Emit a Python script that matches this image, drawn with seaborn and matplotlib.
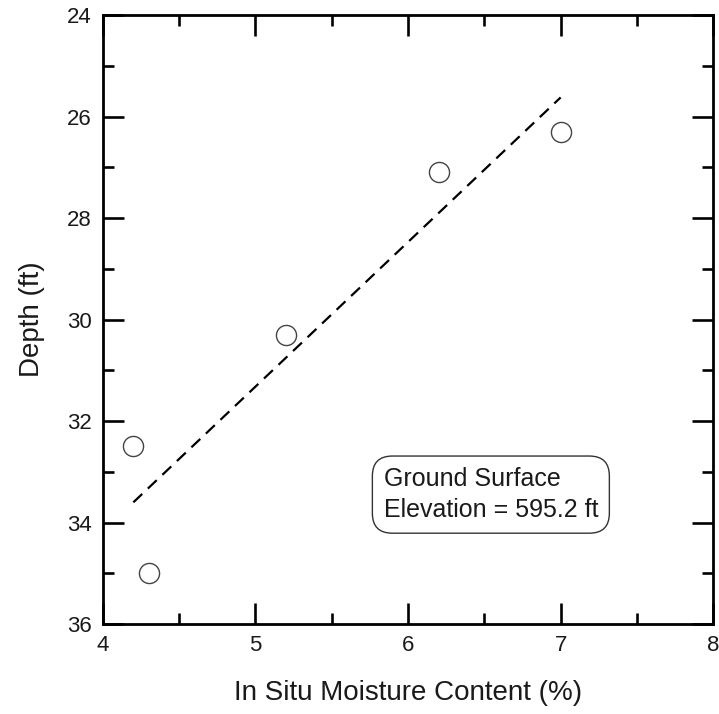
import matplotlib
matplotlib.use("Agg")
import matplotlib.pyplot as plt
from matplotlib.ticker import MultipleLocator
import numpy as np
import pandas as pd
import seaborn as sns

# Laboratory results: in situ moisture content versus sample depth
moisture_pct = [4.2, 4.3, 5.2, 6.2, 7.0]
depth_ft = [32.5, 35.0, 30.3, 27.1, 26.3]

x_ticks = [4, 5, 6, 7, 8]
y_ticks = [24, 26, 28, 30, 32, 34, 36]
note_lines = ["Ground Surface", "Elevation = 595.2 ft"]

df = pd.DataFrame({"moisture": moisture_pct, "depth": depth_ft})

sns.set_theme(style="white")
plt.rcParams["font.family"] = ["Liberation Sans", "DejaVu Sans"]

fig = plt.figure(figsize=(7.19, 7.14), dpi=100)
ax = fig.add_axes([0.143, 0.126, 0.849, 0.853])

# Least-squares trend line through the samples
sns.regplot(data=df, x="moisture", y="depth", ax=ax, ci=None, scatter=False,
            truncate=True,
            line_kws=dict(color="black", lw=1.6, linestyle=(0, (5.5, 3.5))))

# Individual samples as open circles
sns.scatterplot(data=df, x="moisture", y="depth", ax=ax, s=210,
                marker="o", facecolor="white", edgecolor="#444444",
                linewidth=1.0, zorder=3)

ax.set_xlim(4, 8)
ax.set_ylim(36, 24)
ax.set_xticks(x_ticks)
ax.set_yticks(y_ticks)
ax.xaxis.set_minor_locator(MultipleLocator(0.5))
ax.yaxis.set_minor_locator(MultipleLocator(1))

ax.tick_params(which="both", direction="in", top=True, right=True,
               bottom=True, left=True, color="black", width=1.9,
               labelsize=16, labelcolor="#1a1a1a")
ax.tick_params(which="major", length=15, pad=8)
ax.tick_params(which="minor", length=8)

for side in ax.spines.values():
    side.set_visible(True)
    side.set_color("black")
    side.set_linewidth(2.0)

ax.set_xlabel("In Situ Moisture Content (%)", fontsize=20, labelpad=17,
              color="#1a1a1a")
ax.set_ylabel("Depth (ft)", fontsize=20, labelpad=16, color="#1a1a1a")

ax.text(5.84, 33.45, "\n".join(note_lines), fontsize=18, color="#1a1a1a",
        ha="left", va="center", linespacing=1.35,
        bbox=dict(boxstyle="round,pad=0.45,rounding_size=0.8",
                  facecolor="white", edgecolor="#333333", linewidth=1.0))

fig.savefig("out.png", dpi=100)
